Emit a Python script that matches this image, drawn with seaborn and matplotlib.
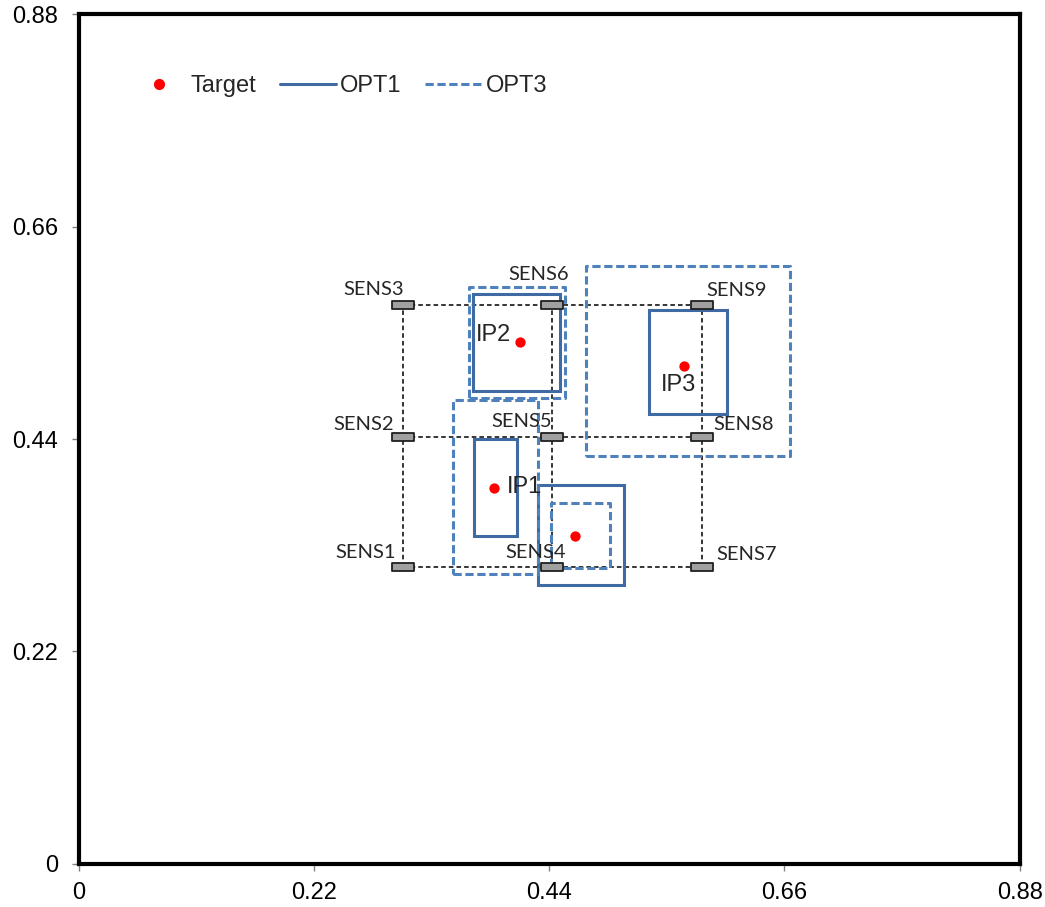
import matplotlib
matplotlib.use("Agg")
import matplotlib.pyplot as plt
import seaborn as sns
from matplotlib.lines import Line2D
from matplotlib.path import Path

# sensors (grid of 3 x 3)
sensor_names = ["SENS1", "SENS2", "SENS3", "SENS4", "SENS5", "SENS6", "SENS7", "SENS8", "SENS9"]
sensor_x = [0.303, 0.303, 0.303, 0.443, 0.443, 0.443, 0.583, 0.583, 0.583]
sensor_y = [0.307, 0.442, 0.579, 0.307, 0.442, 0.579, 0.307, 0.442, 0.579]

# targets
target_names = ["IP1", "IP2", "IP3", ""]
target_x = [0.388, 0.413, 0.566, 0.464]
target_y = [0.389, 0.541, 0.516, 0.340]

# OPT1 boxes (solid)
opt1_x0 = [0.370, 0.369, 0.533, 0.430]
opt1_x1 = [0.410, 0.450, 0.606, 0.510]
opt1_y0 = [0.340, 0.490, 0.466, 0.289]
opt1_y1 = [0.440, 0.590, 0.574, 0.392]

# OPT3 boxes (dashed)
opt3_x0 = [0.350, 0.365, 0.474, 0.442]
opt3_x1 = [0.430, 0.455, 0.665, 0.497]
opt3_y0 = [0.300, 0.482, 0.422, 0.306]
opt3_y1 = [0.480, 0.598, 0.619, 0.374]

tick_vals = [0, 0.22, 0.44, 0.66, 0.88]
tick_labels = ["0", "0.22", "0.44", "0.66", "0.88"]

# label offsets in points
sensor_offsets = [(-27, 11), (-28, 9), (-21, 11), (-12, 11), (-22, 11),
                  (-10, 22), (32, 9), (30, 9), (25, 10)]
target_offsets = [(22, 1), (-19, 5), (-4, -14), (0, 0)]

OPT1_COLOR = "#3F6AA4"
OPT3_COLOR = "#4F81BD"

sns.set_theme(style="white")
plt.rcParams["font.family"] = ["Liberation Sans", "DejaVu Sans"]

fig = plt.figure(figsize=(10.45, 9.07), dpi=100)
ax = fig.add_axes([0.0752, 0.0477, 0.9006, 0.9365])

# dashed wiring between sensors
for y in sorted(set(sensor_y)):
    ax.plot([min(sensor_x), max(sensor_x)], [y, y], color="black", lw=1.1,
            linestyle=(0, (3, 2)), zorder=1)
for x in sorted(set(sensor_x)):
    ax.plot([x, x], [min(sensor_y), max(sensor_y)], color="black", lw=1.1,
            linestyle=(0, (3, 2)), zorder=1)

# boxes
for x0, x1, y0, y1 in zip(opt1_x0, opt1_x1, opt1_y0, opt1_y1):
    ax.plot([x0, x1, x1, x0, x0], [y0, y0, y1, y1, y0], color=OPT1_COLOR,
            lw=2.2, solid_joinstyle="miter", zorder=2)
for x0, x1, y0, y1 in zip(opt3_x0, opt3_x1, opt3_y0, opt3_y1):
    ax.plot([x0, x1, x1, x0, x0], [y0, y0, y1, y1, y0], color=OPT3_COLOR,
            lw=2.2, linestyle=(0, (2.7, 1.2)), zorder=2)

# sensors
rect = Path([(-11, -4), (11, -4), (11, 4), (-11, 4), (-11, -4)], closed=True)
sns.scatterplot(x=sensor_x, y=sensor_y, marker=rect, s=250, color="#A0A0A0",
                edgecolor="#202020", linewidth=1.3, zorder=4, ax=ax)
for name, x, y, off in zip(sensor_names, sensor_x, sensor_y, sensor_offsets):
    ax.annotate(name, (x, y), xytext=off, textcoords="offset points",
                ha="center", va="center", fontsize=14.5, family=["Lato", "DejaVu Sans"])

# targets
sns.scatterplot(x=target_x, y=target_y, color="#FF0000", s=55, linewidth=0,
                zorder=5, ax=ax)
for name, x, y, off in zip(target_names, target_x, target_y, target_offsets):
    if name:
        ax.annotate(name, (x, y), xytext=off, textcoords="offset points",
                    ha="center", va="center", fontsize=17)

ax.set_xlim(0, 0.88)
ax.set_ylim(0, 0.88)
ax.set_xticks(tick_vals)
ax.set_xticklabels(tick_labels)
ax.set_yticks(tick_vals)
ax.set_yticklabels(tick_labels)
ax.tick_params(bottom=True, left=True, direction="out", length=5, width=1,
               color="#808080", labelsize=17, labelcolor="black")
ax.tick_params(axis="x", pad=8)
ax.tick_params(axis="y", pad=10)
for sp in ax.spines.values():
    sp.set_visible(True)
    sp.set_color("black")
    sp.set_linewidth(3)

handles = [
    Line2D([], [], marker="o", color="#FF0000", linestyle="none", markersize=7),
    Line2D([], [], color=OPT1_COLOR, lw=2.2),
    Line2D([], [], color=OPT3_COLOR, lw=2.2, linestyle=(0, (2.7, 1.2))),
]
ax.legend(handles, ["Target", "OPT1", "OPT3"], ncol=3, frameon=False,
          loc="center left", bbox_to_anchor=(0.0557, 0.9156), borderpad=0,
          borderaxespad=0, handlelength=2.34, handletextpad=0.2,
          columnspacing=1.0, fontsize=17)

fig.savefig("out.png", dpi=100)
